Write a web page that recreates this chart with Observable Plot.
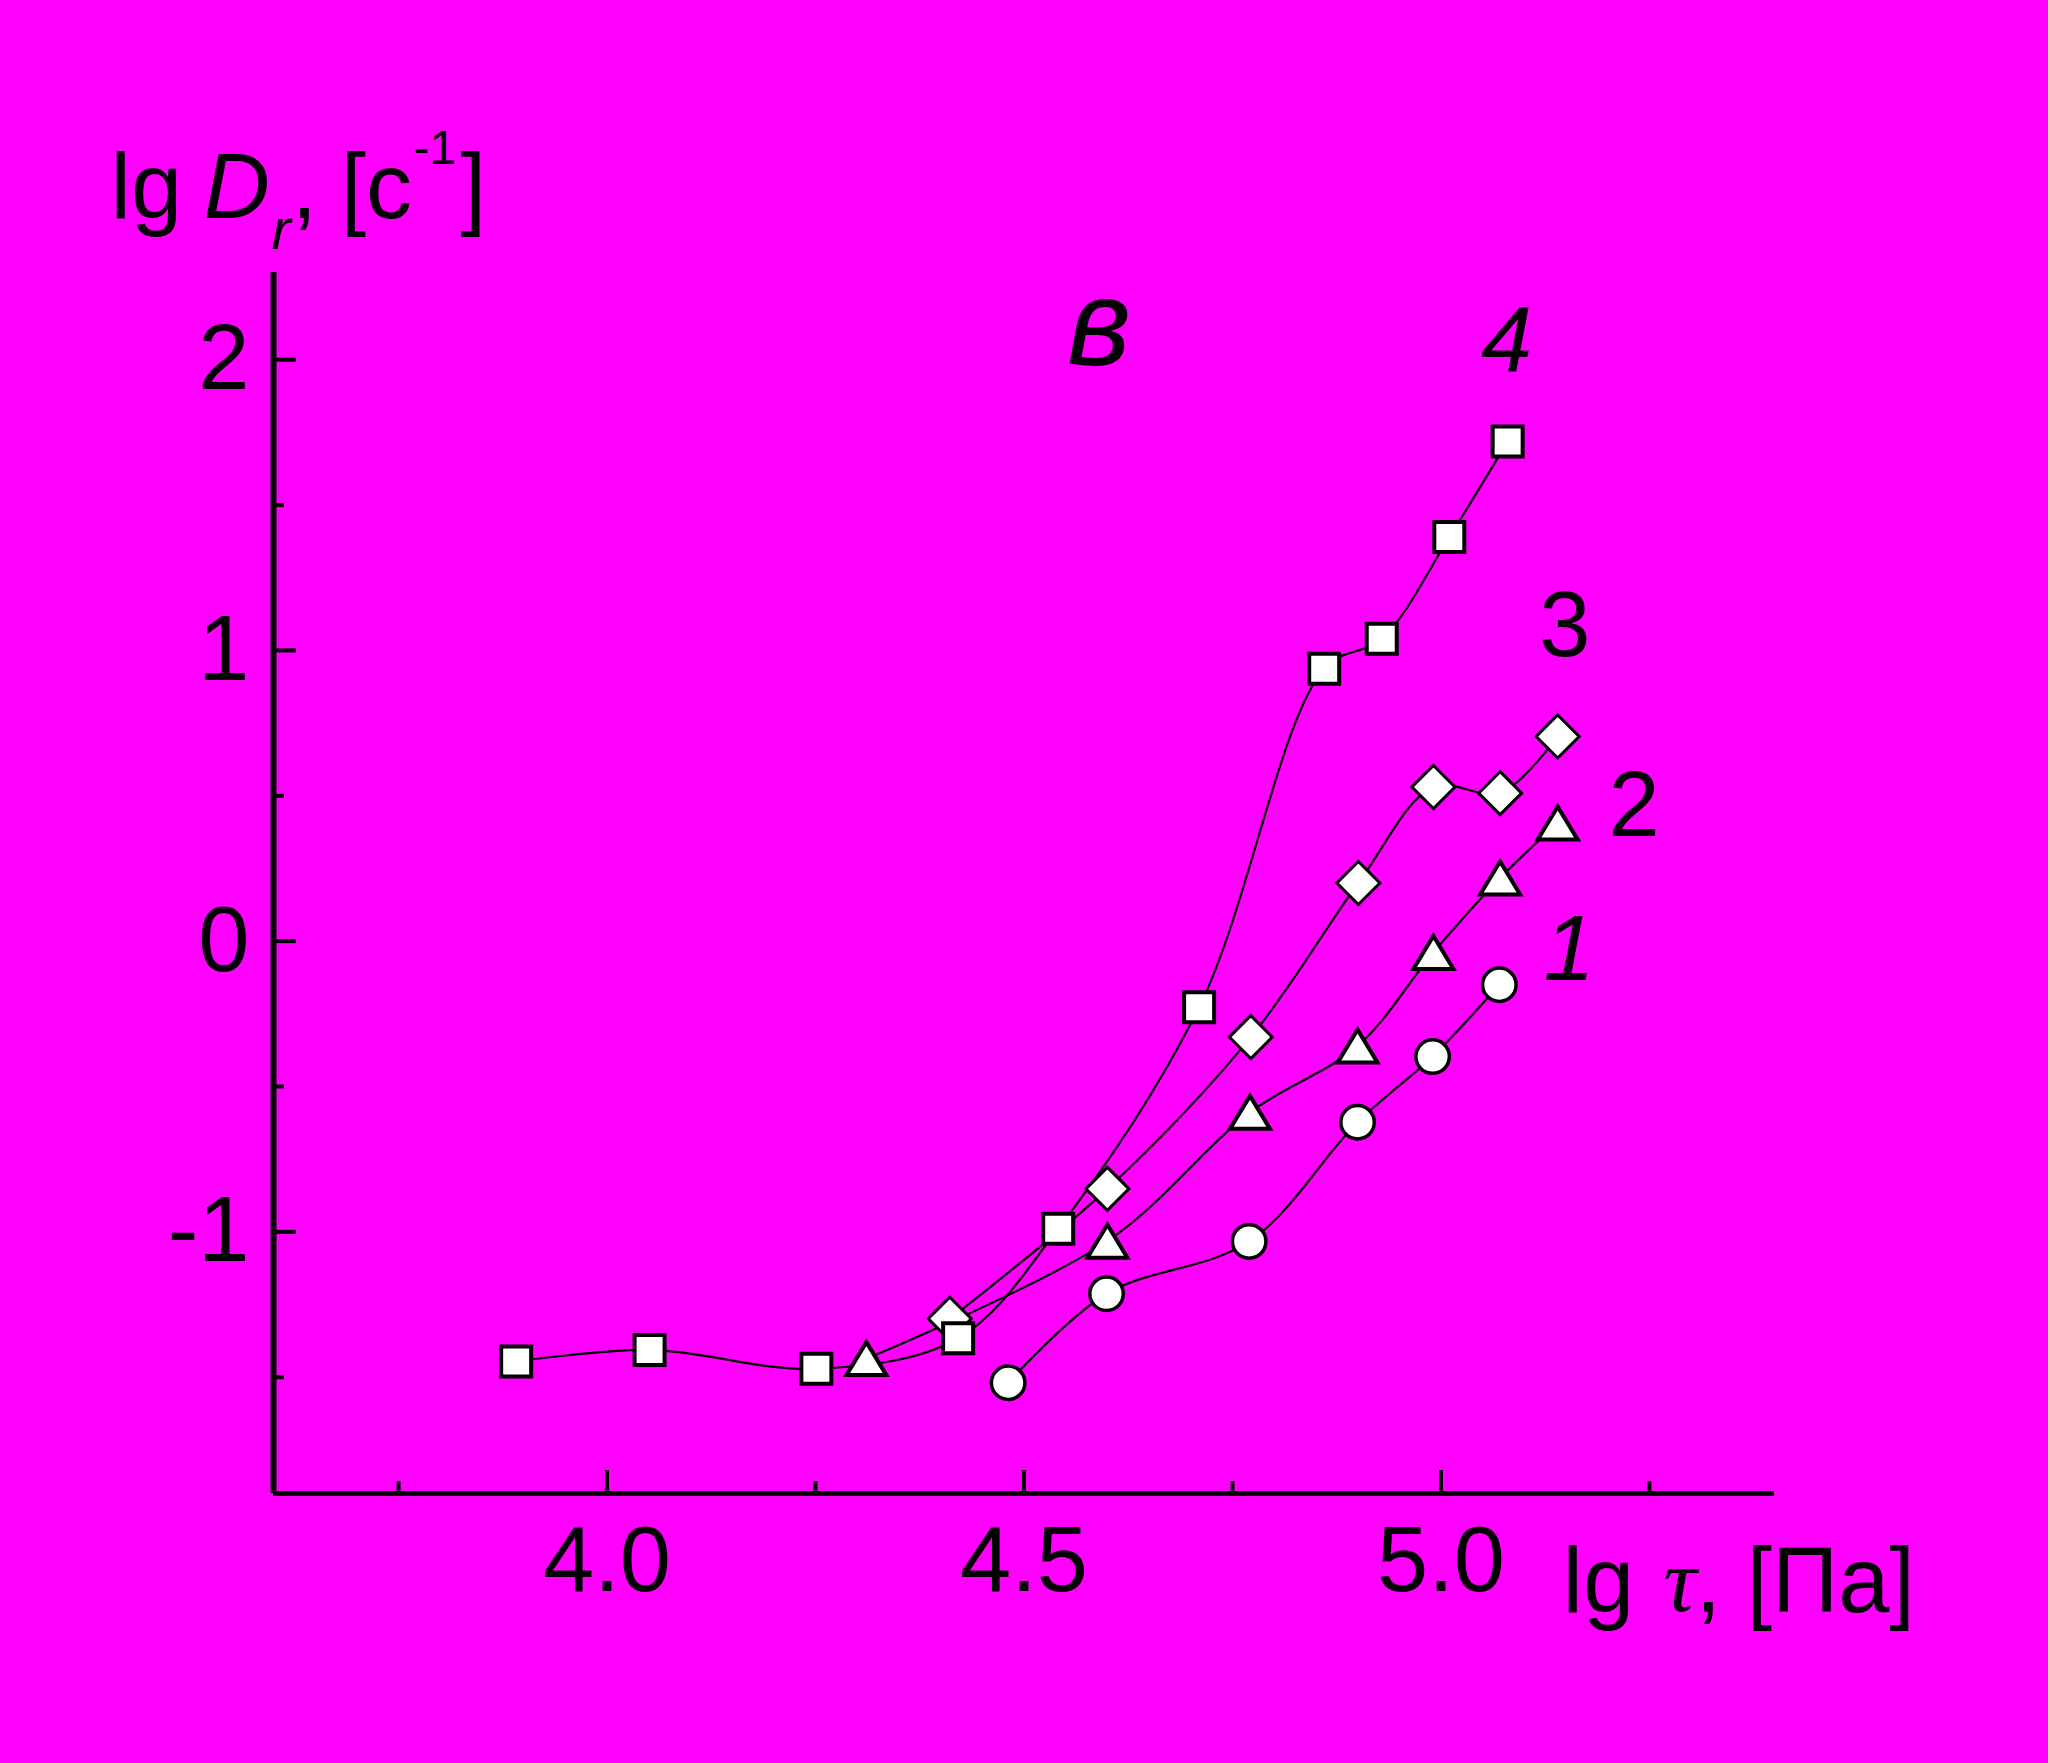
<!DOCTYPE html>
<html>
<head>
<meta charset="utf-8">
<script src="https://cdn.jsdelivr.net/npm/d3@7"></script>
<script src="https://cdn.jsdelivr.net/npm/@observablehq/plot@0.6"></script>
<style>
  html, body { margin: 0; padding: 0; background: #ff00ff; }
  #chart svg { display: block; }
</style>
</head>
<body>
<div id="chart"></div>
<script>
// ---- data ----
const curve1X = [4.481, 4.599, 4.770, 4.900, 4.990, 5.070];
const curve1Y = [-1.519, -1.213, -1.033, -0.623, -0.397, -0.150];

const curve2X = [4.311, 4.600, 4.771, 4.900, 4.991, 5.071, 5.140];
const curve2Y = [-1.436, -1.032, -0.589, -0.361, -0.039, 0.217, 0.406];

const curve3X = [4.411, 4.600, 4.772, 4.901, 4.991, 5.071, 5.140];
const curve3Y = [-1.299, -0.852, -0.330, 0.200, 0.530, 0.509, 0.704];

const curve4X = [3.891, 4.051, 4.251, 4.421, 4.541, 4.710, 4.860, 4.929, 5.010, 5.080];
const curve4Y = [-1.446, -1.406, -1.471, -1.366, -0.989, -0.227, 0.937, 1.040, 1.390, 1.719];

const xDomain = [3.6, 5.4];
const yDomain = [-1.9, 2.3];
const xTicksMajor = [4.0, 4.5, 5.0];
const xTicksMinor = [3.75, 4.25, 4.75, 5.25];
const yTicksMajor = [-1, 0, 1, 2];
const yTicksMinor = [-1.5, -0.5, 0.5, 1.5];

// curve labels: text, anchor x, baseline y (data units), italic?
const curveLabelText = ["1", "2", "3", "4", "в"];
const curveLabelX = [5.123, 5.201, 5.118, 5.048, 4.552];
const curveLabelY = [-0.135, 0.360, 0.982, 1.960, 1.981];
const curveLabelItalic = [true, false, false, true, true];

// ---- build tables ----
function rows(xs, ys, id) { return xs.map((x, i) => ({x, y: ys[i], series: id})); }
const s1 = rows(curve1X, curve1Y, "1");
const s2 = rows(curve2X, curve2Y, "2");
const s3 = rows(curve3X, curve3Y, "3");
const s4 = rows(curve4X, curve4Y, "4");
const all = [...s1, ...s2, ...s3, ...s4];
const labels = curveLabelText.map((t, i) => ({t, x: curveLabelX[i], y: curveLabelY[i], it: curveLabelItalic[i]}));
const numItalic = labels.filter(d => d.it && d.t !== "в");
const numUpright = labels.filter(d => !d.it);
const letter = labels.filter(d => d.t === "в");

// ---- custom symbols ----
const squareSym = {draw(c) { const h = 15; c.moveTo(-h, -h); c.lineTo(h, -h); c.lineTo(h, h); c.lineTo(-h, h); c.closePath(); }};
const triSym = {draw(c) { c.moveTo(0, -16.5); c.lineTo(20, 16.5); c.lineTo(-20, 16.5); c.closePath(); }};
const diaSym = {draw(c) { const h = 21.5; c.moveTo(0, -h); c.lineTo(h, 0); c.lineTo(0, h); c.lineTo(-h, 0); c.closePath(); }};

const W = 2048, H = 1763;
const mL = 273, mR = 274, mT = 272, mB = 270;
const frameW = W - mL - mR, frameH = H - mT - mB;
const sans = "'Liberation Sans', Arial, sans-serif";
const serif = "'Liberation Serif', 'Times New Roman', serif";

const plot = Plot.plot({
  width: W,
  height: H,
  marginLeft: mL, marginRight: mR, marginTop: mT, marginBottom: mB,
  x: {domain: xDomain},
  y: {domain: yDomain},
  style: {background: "#ff00ff", color: "black", fontFamily: sans},
  marks: [
    // axis lines
    Plot.ruleX([xDomain[0]], {stroke: "black", strokeWidth: 6}),
    Plot.ruleY([yDomain[0]], {stroke: "black", strokeWidth: 5}),
    // inward ticks
    Plot.ruleX(xTicksMajor, {stroke: "black", strokeWidth: 4, insetTop: frameH - 23}),
    Plot.ruleX(xTicksMinor, {stroke: "black", strokeWidth: 4, insetTop: frameH - 12}),
    Plot.ruleY(yTicksMajor, {stroke: "black", strokeWidth: 4, insetRight: frameW - 23}),
    Plot.ruleY(yTicksMinor, {stroke: "black", strokeWidth: 4, insetRight: frameW - 11}),
    // tick labels
    Plot.axisX({ticks: xTicksMajor, tickSize: 0, tickPadding: 32, tickFormat: d => d.toFixed(1), fontSize: 92, label: null, fontFamily: sans}),
    Plot.axisY({ticks: yTicksMajor, tickSize: 0, tickPadding: 24, tickFormat: d => String(d), fontSize: 92, label: null, fontFamily: sans}),
    // curves
    Plot.line(all, {x: "x", y: "y", z: "series", curve: "catmull-rom", stroke: "black", strokeWidth: 2.2}),
    // markers
    Plot.dot(s1, {x: "x", y: "y", r: 16.75, fill: "white", stroke: "black", strokeWidth: 3.5}),
    Plot.dot(s2, {x: "x", y: "y", symbol: triSym, fill: "white", stroke: "black", strokeWidth: 4}),
    Plot.dot(s3, {x: "x", y: "y", symbol: diaSym, fill: "white", stroke: "black", strokeWidth: 3}),
    Plot.dot(s4, {x: "x", y: "y", symbol: squareSym, fill: "white", stroke: "black", strokeWidth: 4}),
    // curve labels
    Plot.text(numItalic, {x: "x", y: "y", text: "t", textAnchor: "start", lineAnchor: "bottom", fontSize: 92, fill: "black", fontStyle: "italic"}),
    Plot.text(numUpright, {x: "x", y: "y", text: "t", textAnchor: "start", lineAnchor: "bottom", fontSize: 92, fill: "black"}),
    Plot.text(letter, {x: "x", y: "y", text: "t", textAnchor: "start", lineAnchor: "bottom", fontSize: 122, fill: "black", fontStyle: "italic"}),
    // y axis title: lg D_r, [c^-1]
    Plot.text(["lg"], {frameAnchor: "top-left", dx: -163, dy: -55, textAnchor: "start", lineAnchor: "bottom", fontSize: 92}),
    Plot.text(["D"], {frameAnchor: "top-left", dx: -70, dy: -55, textAnchor: "start", lineAnchor: "bottom", fontSize: 92, fontStyle: "italic"}),
    Plot.text(["r"], {frameAnchor: "top-left", dx: -2, dy: -24, textAnchor: "start", lineAnchor: "bottom", fontSize: 58, fontStyle: "italic"}),
    Plot.text([","], {frameAnchor: "top-left", dx: 18, dy: -55, textAnchor: "start", lineAnchor: "bottom", fontSize: 92}),
    Plot.text(["[c"], {frameAnchor: "top-left", dx: 67, dy: -55, textAnchor: "start", lineAnchor: "bottom", fontSize: 92}),
    Plot.text(["-1"], {frameAnchor: "top-left", dx: 140, dy: -109, textAnchor: "start", lineAnchor: "bottom", fontSize: 48}),
    Plot.text(["]"], {frameAnchor: "top-left", dx: 187, dy: -55, textAnchor: "start", lineAnchor: "bottom", fontSize: 92}),
    // x axis title: lg τ, [Па]
    Plot.text(["lg"], {frameAnchor: "bottom-left", dx: 1289, dy: 118, textAnchor: "start", lineAnchor: "bottom", fontSize: 92}),
    Plot.text(["τ"], {frameAnchor: "bottom-left", dx: 1390, dy: 117, textAnchor: "start", lineAnchor: "bottom", fontSize: 92, fontStyle: "italic", fontFamily: serif}),
    Plot.text([","], {frameAnchor: "bottom-left", dx: 1422, dy: 118, textAnchor: "start", lineAnchor: "bottom", fontSize: 92}),
    Plot.text(["[Па]"], {frameAnchor: "bottom-left", dx: 1473, dy: 118, textAnchor: "start", lineAnchor: "bottom", fontSize: 92})
  ]
});
document.getElementById("chart").appendChild(plot);
</script>
</body>
</html>
